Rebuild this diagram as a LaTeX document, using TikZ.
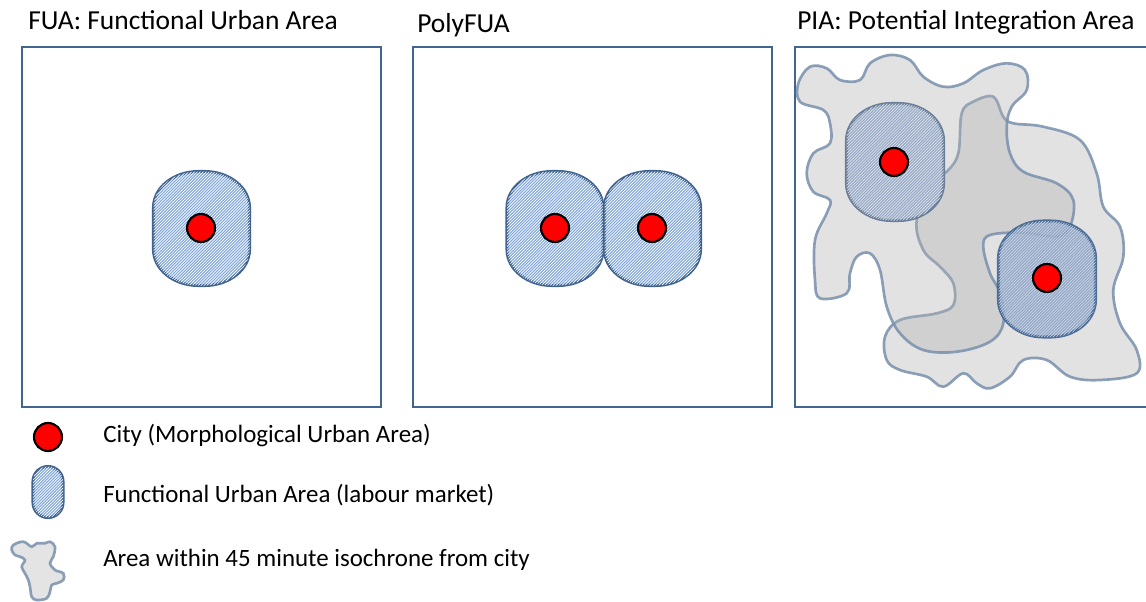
\documentclass[tikz,border=0pt]{standalone}
\usepackage{fontspec}
\setmainfont{Carlito}
\usetikzlibrary{patterns}
\pgfdeclarepatternformonly{finehatch}{\pgfqpoint{-1pt}{-1pt}}{\pgfqpoint{3.2pt}{3.2pt}}{\pgfqpoint{2.2pt}{2.2pt}}{%
  \pgfsetlinewidth{0.5pt}%
  \pgfpathmoveto{\pgfqpoint{0pt}{0pt}}%
  \pgfpathlineto{\pgfqpoint{2.3pt}{2.3pt}}%
  \pgfusepath{stroke}}
\definecolor{boxline}{HTML}{41658F}
\definecolor{stadline}{HTML}{3F6391}
\definecolor{stadfill}{HTML}{82A7DD}
\definecolor{stadfilldark}{HTML}{7E98C0}
\definecolor{blobline}{HTML}{7890AC}
\definecolor{blobfill}{HTML}{B0B0B0}
\definecolor{legblob}{HTML}{E4E4E4}
% rectangle with elliptical corners: cx, cy, half width, half height, x radius, y radius
\newcommand\elrect[6]{(#1-#3,#2-#4+#6) arc[start angle=180,end angle=270,x radius=#5,y radius=#6] -- (#1+#3-#5,#2-#4) arc[start angle=270,end angle=360,x radius=#5,y radius=#6] -- (#1+#3,#2+#4-#6) arc[start angle=0,end angle=90,x radius=#5,y radius=#6] -- (#1-#3+#5,#2+#4) arc[start angle=90,end angle=180,x radius=#5,y radius=#6] -- cycle}
\tikzset{
  panel/.style={draw=boxline, line width=2pt},
  stad/.style={draw=stadline, line width=2.3pt, fill=stadfill, postaction={pattern=finehatch, pattern color=white}},
  staddark/.style={draw=stadline, line width=2.3pt, fill=stadfilldark, fill opacity=0.8, draw opacity=0.9, postaction={pattern=finehatch, pattern color=white!65!stadfilldark}},
  city/.style={circle, draw=black, line width=1.6pt, fill=red, minimum size=21pt, inner sep=0pt},
  blob/.style={draw=blobline, draw opacity=0.85, line width=2pt, fill=blobfill, fill opacity=0.37},
  title/.style={anchor=base west, inner sep=0pt, font=\fontsize{20.6}{24}\selectfont},
  legtext/.style={anchor=base west, inner sep=0pt, font=\fontsize{18.7}{22}\selectfont},
}
\begin{document}
\begin{tikzpicture}[x=0.75pt,y=-0.75pt]
\useasboundingbox (0,0) rectangle (1146,601);
\begin{scope}
\clip (0,0) rectangle (1146,601);
% titles
\node[title] (t1) at (28,29.5) {FUA: Functional Urban Area};
\node[title] (t2) at (417,32.5) {PolyFUA};
\node[title] (t3) at (797,29.5) {PIA: Potential Integration Area};
% panels
\draw[panel] (22,47) rectangle (381,407);
\draw[panel] (413,47) rectangle (772,407);
\draw[panel] (795,47) rectangle (1160,407);
% FUA
\path[stad] \elrect{201.5}{228.5}{48}{57}{45}{36};
\node[city] (c1) at (201,228) {};
% PolyFUA
\path[stad] \elrect{555}{228.5}{48}{57}{45}{36};
\path[stad] \elrect{652.5}{228.5}{48}{57}{45}{36};
\node[city] (c2) at (555,228) {};
\node[city] (c3) at (652,228) {};
% PIA
\path[blob] plot[smooth cycle, tension=0.6] coordinates {
(993.3,96.7) (1003.3,116.7) (1013.3,123.3) (1043.3,126.7) (1080,140) (1096.7,173.3) (1103.3,206.7) (1120,226.7) (1123.3,256.7) (1113.3,290) (1120,323.3) (1136.7,350) (1136.7,373.3) (1100,380) (1070,376.7) (1046.7,360) (1023.3,360) (1010,376.7) (990,388.3) (976.7,383.3) (963.3,373.3) (943.3,386.7) (926.7,376.7) (900,370) (886.7,360) (885,336.7) (900,320) (936.7,313.3) (953.3,305) (953.3,283.3) (940,266.7) (923.3,250) (916.7,220) (933.3,180) (946.7,171.7) (958.3,153.3) (961.7,113.3) (973.3,101.7)};
\path[stad] \elrect{895}{162}{48.5}{58.5}{45}{37};
\path[blob] plot[smooth cycle, tension=0.6] coordinates {
(798.3,83.3) (810,66.7) (826.7,68.3) (840,80) (860,80) (870,63.3) (890,55) (910,60) (923.3,76.7) (943.3,86.7) (963.3,83.3) (983.3,70) (1006.7,63.3) (1025,70) (1026.7,90) (1011.7,106.7) (1006.7,126.7) (1010,153.3) (1023.3,171.7) (1056.7,183.3) (1073.3,200) (1070,226.7) (1056.7,236.7) (1023.3,232.7) (990,235) (983.3,246.7) (990,273.3) (1000,293.3) (1003.3,323.3) (990,341.7) (956.7,351.7) (923.3,350) (900,333.3) (886.7,306.7) (880,270) (870,253.3) (856.7,256.7) (850,273.3) (846.7,293.3) (820,298.3) (815,280) (815,240) (826.7,213.3) (830,200) (813.3,191.7) (806.7,173.3) (813.3,153.3) (830,143.3) (830,123.3) (823.3,110) (800,101.7)};
\path[staddark] \elrect{1047}{279}{48.5}{58}{45}{37};
\node[city] (c4) at (894,162) {};
\node[city] (c5) at (1047,278) {};
% legend
\node[city] (lc) at (48,437) {};
\node[legtext] (l1) at (103,442.5) {City (Morphological Urban Area)};
\path[stad] \elrect{48}{492}{15}{25.5}{15}{15};
\node[legtext] (l2) at (103,502) {Functional Urban Area (labour market)};
\path[draw=blobline, draw opacity=0.85, line width=2pt, fill=legblob] plot[smooth cycle, tension=0.6] coordinates {
(13.3,545) (23.3,541.7) (31.7,546.7) (36.7,543.3) (45,543.3) (50,541.7) (55,546.7) (53.3,556.7) (50,563.3) (55,570) (63.3,573.3) (63.3,580) (56.7,583.3) (51.7,585) (50,591.7) (46.7,598.3) (36.7,600) (31.7,596.7) (30,586.7) (28.3,580) (25,573.3) (21.7,566.7) (25,560) (20,556.7) (15,555) (11.7,550)};
\node[legtext] (l3) at (103,566) {Area within 45 minute isochrone from city};
\end{scope}
\end{tikzpicture}
\end{document}
